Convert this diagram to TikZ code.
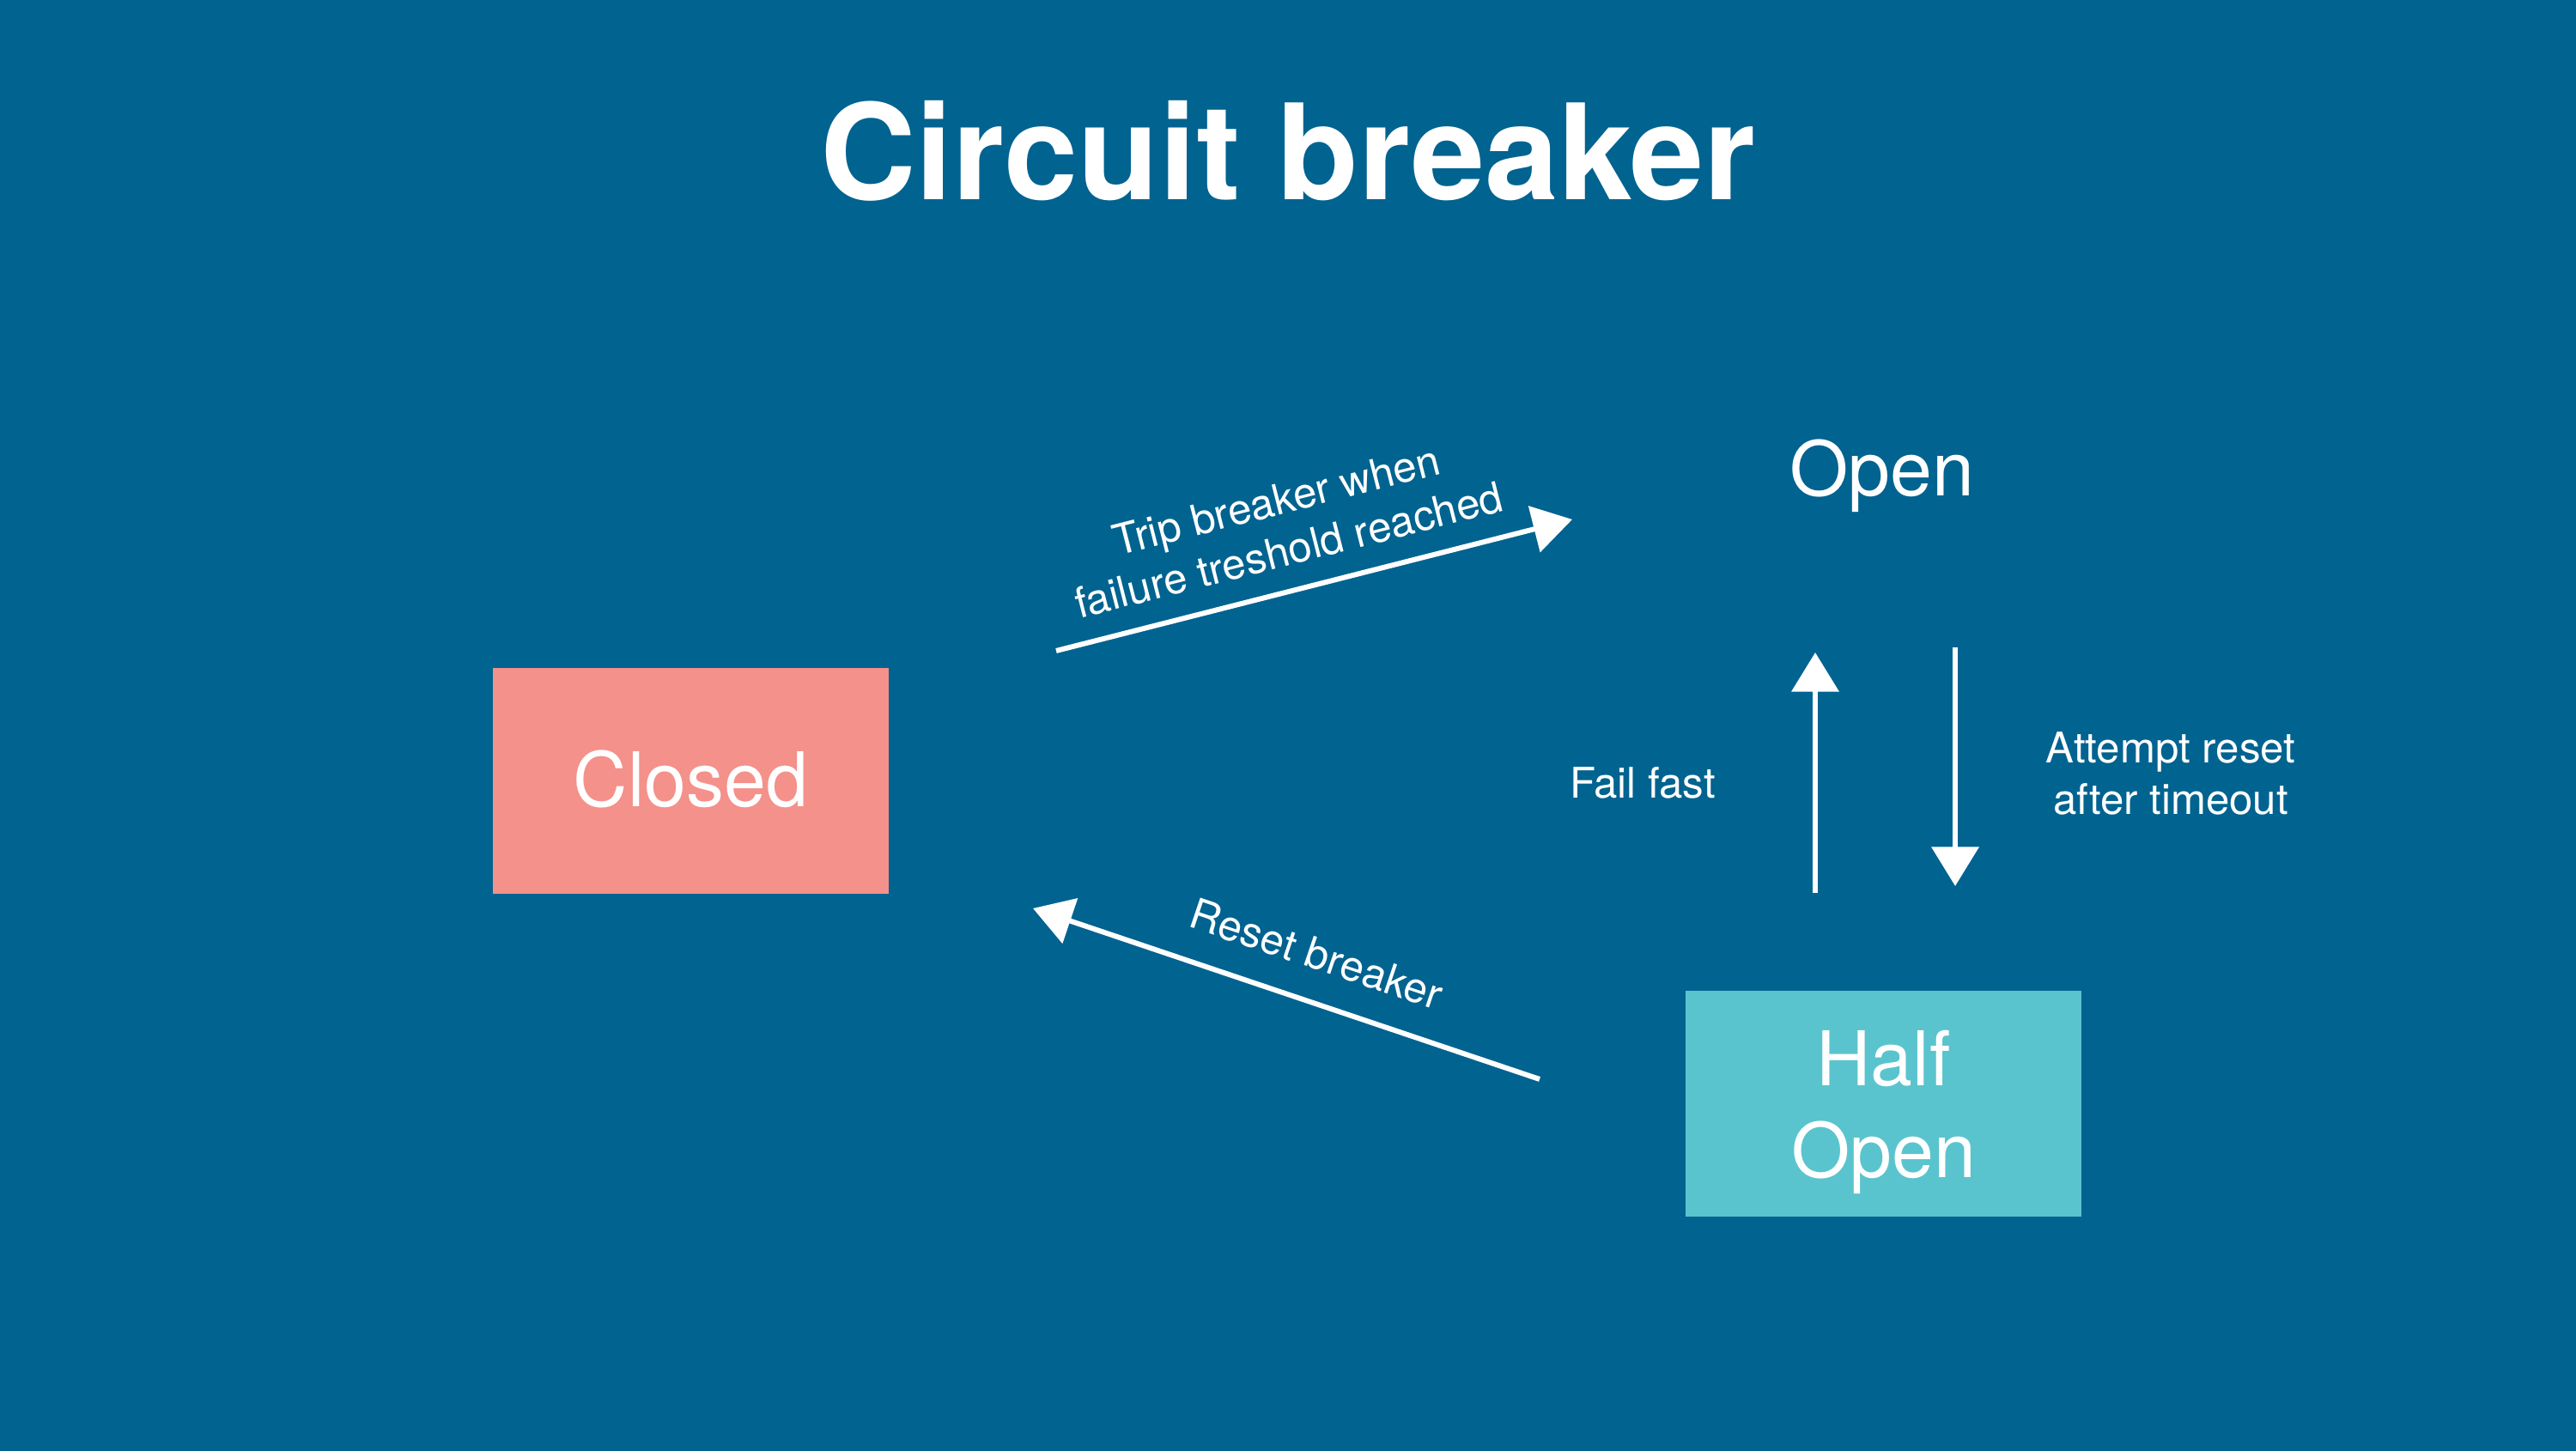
\documentclass[tikz,border=0pt]{standalone}
\usepackage{fontspec}
\setmainfont{TeX Gyre Heros}
\usetikzlibrary{arrows.meta}
\definecolor{slide}{HTML}{006390}
\definecolor{closedfill}{HTML}{F4918A}
\definecolor{halffill}{HTML}{5AC4CE}
\tikzset{
  every node/.style={text=white},
  state box/.style={minimum width=4.61cm,minimum height=2.63cm,inner sep=0pt,
    font=\fontsize{25}{30.5}\selectfont,align=center},
  flow/.style={draw=white,line width=1.7pt,>={Triangle[length=13pt,width=15.5pt]}},
  note/.style={font=\fontsize{14}{17}\selectfont,align=center},
}

\begin{document}
\begin{tikzpicture}
\useasboundingbox (0,0) rectangle (30,16.89);
\fill[slide] (-0.2,-0.2) rectangle (30.2,17.1);
\node[anchor=base,font=\fontsize{44}{50}\selectfont\bfseries] (title) at (15,14.56) {Circuit breaker};
\node[state box,fill=closedfill,text depth=0pt] (closed) at (8.045,7.79) {\raisebox{2pt}{Closed}};
\node[state box,fill=halffill,text depth=0pt] (half) at (21.935,4.03) {Half\\Open};
\node[anchor=base,font=\fontsize{25}{30}\selectfont] (open) at (21.92,11.11) {Open};
\coordinate (trip-s) at (12.30,9.31);
\coordinate (trip-e) at (18.31,10.84);
\coordinate (fail-s) at (21.14,6.49);
\coordinate (fail-e) at (21.14,9.29);
\coordinate (retry-s) at (22.77,9.35);
\coordinate (retry-e) at (22.77,6.57);
\coordinate (reset-e) at (12.03,6.31);
\coordinate (reset-s) at (17.93,4.32);
\draw[flow,->] (trip-s) -- (trip-e)
  node[note,sloped,above=4pt,pos=0.47] (trip-label) {Trip breaker when\\failure treshold reached};
\draw[flow,->] (fail-s) -- (fail-e);
\draw[flow,->] (retry-s) -- (retry-e);
\draw[flow,<-] (reset-e) -- (reset-s)
  node[note,sloped,above=6.3pt,pos=0.53] (reset-label) {Reset breaker};
\node[note] (fail-label) at (19.13,7.77) {Fail fast};
\node[note] (retry-label) at (25.28,7.88) {Attempt reset\\after timeout};
\end{tikzpicture}
\end{document}
